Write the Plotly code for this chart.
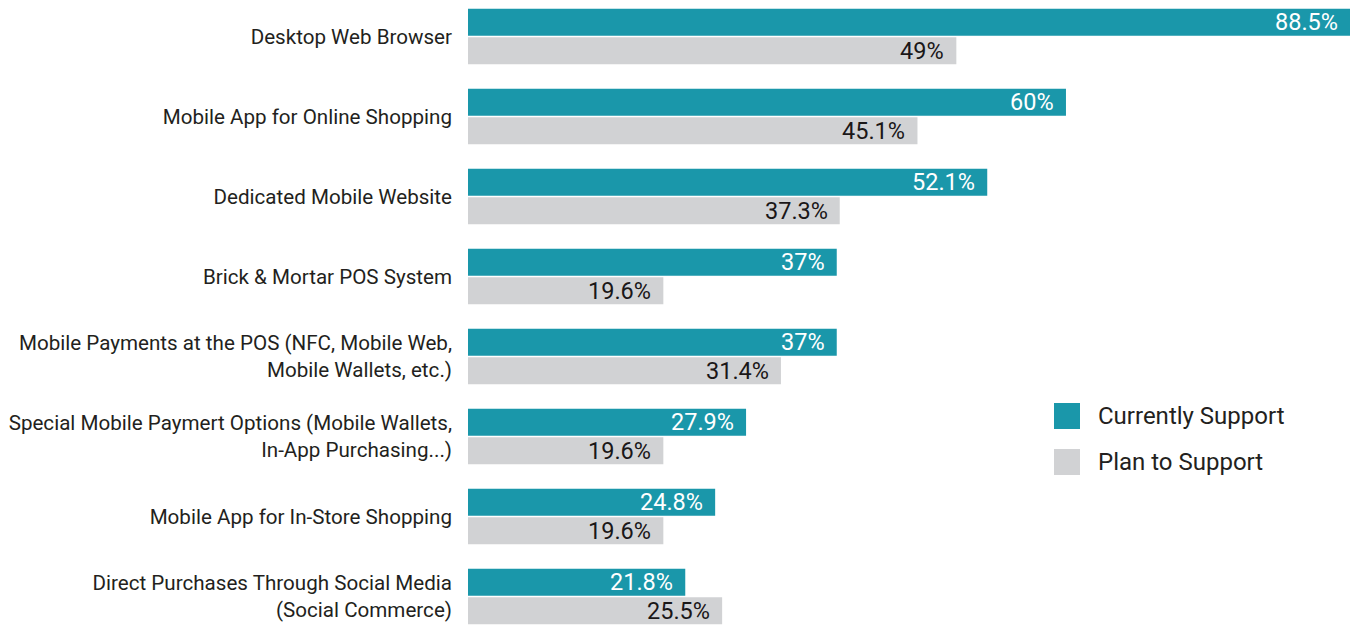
import plotly.graph_objects as go

categories = [
    "Desktop Web Browser",
    "Mobile App for Online Shopping",
    "Dedicated Mobile Website",
    "Brick & Mortar POS System",
    "Mobile Payments at the POS (NFC, Mobile Web,<br>Mobile Wallets, etc.)",
    "Special Mobile Paymert Options (Mobile Wallets,<br>In-App Purchasing...)",
    "Mobile App for In-Store Shopping",
    "Direct Purchases Through Social Media<br>(Social Commerce)",
]
currently_support = [88.5, 60, 52.1, 37, 37, 27.9, 24.8, 21.8]
plan_to_support = [49, 45.1, 37.3, 19.6, 31.4, 19.6, 19.6, 25.5]
series_names = ["Currently Support", "Plan to Support"]

TEAL = "#1a97aa"
GRAY = "#d1d2d4"
DARK = "#231f20"
FONT = "Roboto"

def fmt(v):
    return f"{v:g}%"

fig = go.Figure()
fig.add_trace(go.Bar(
    y=categories, x=currently_support, orientation="h", name=series_names[0],
    marker=dict(color=TEAL, line=dict(width=0)), hoverinfo="skip",
))
fig.add_trace(go.Bar(
    y=categories, x=plan_to_support, orientation="h", name=series_names[1],
    marker=dict(color=GRAY, line=dict(width=0)), hoverinfo="skip",
))

annotations = []
offsets = [-0.18, 0.18]
styles = [("white", 400), ("#1a1718", 400)]
for si, vals in enumerate([currently_support, plan_to_support]):
    col, wt = styles[si]
    for i, v in enumerate(vals):
        annotations.append(dict(
            x=v, y=i + offsets[si], xref="x", yref="y",
            text=fmt(v), showarrow=False, xanchor="right", yanchor="middle",
            xshift=-10, font=dict(family=FONT, size=23.5, color=col, weight=wt),
        ))

# custom legend
L = 468
W = 1351 - L
leg_x0, leg_y = 1054, [416, 462]
shapes = []
for k, (name, col) in enumerate(zip(series_names, [TEAL, GRAY])):
    shapes.append(dict(type="rect", xref="paper", yref="paper",
                       x0=(leg_x0 - L) / W, x1=(leg_x0 + 26 - L) / W,
                       y0=1 - (leg_y[k] + 13) / 625, y1=1 - (leg_y[k] - 13) / 625,
                       fillcolor=col, line=dict(width=0)))
    annotations.append(dict(
        x=(1096 - L) / W, y=1 - leg_y[k] / 625, xref="paper", yref="paper",
        text=name, showarrow=False, xanchor="left", yanchor="middle",
        font=dict(family=FONT, size=24, color=DARK),
    ))

fig.update_layout(
    width=1351, height=625,
    margin=dict(l=L, r=0, t=0, b=0),
    paper_bgcolor="white", plot_bgcolor="white",
    barmode="group", bargap=0.2875, bargroupgap=0.053,
    showlegend=False,
    annotations=annotations, shapes=shapes,
    font=dict(family=FONT, color=DARK),
)
fig.update_xaxes(range=[0, 88.6], visible=False, fixedrange=True)
fig.update_yaxes(
    range=[7.356, -0.456], showgrid=False, zeroline=False, showline=False,
    ticks="", ticklabelstandoff=15, tickfont=dict(family=FONT, size=20.6, color=DARK),
    fixedrange=True,
)

fig.write_html(
    "out.html",
    config={"displayModeBar": False},
    post_script="document.body.style.margin='0';document.body.style.overflow='hidden';",
)
